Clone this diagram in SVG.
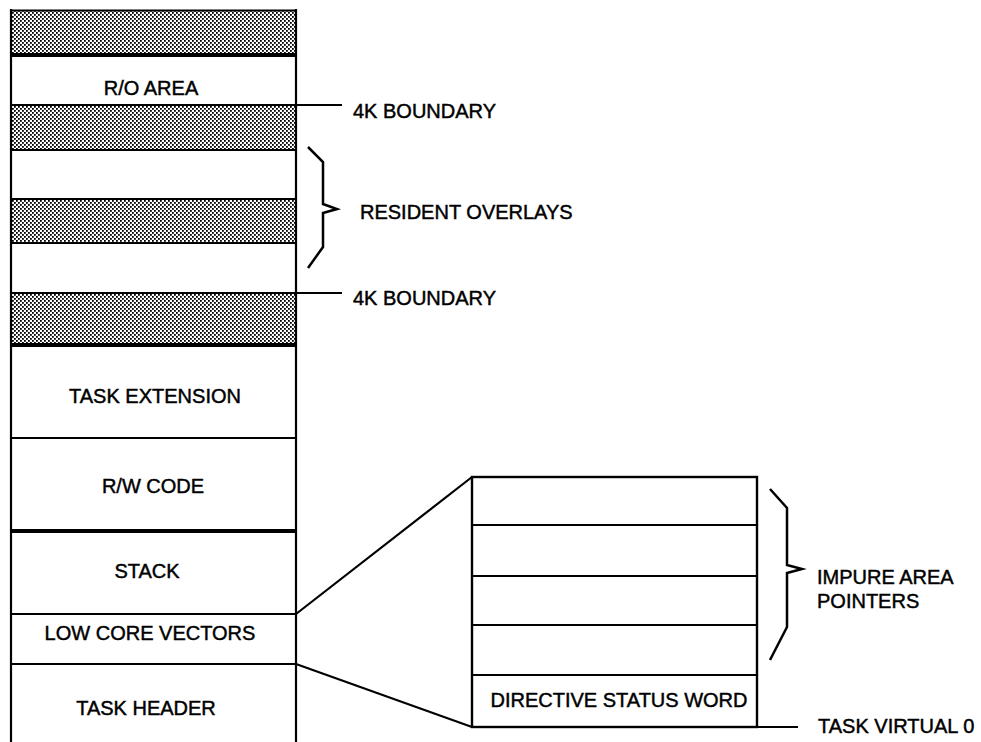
<svg xmlns="http://www.w3.org/2000/svg" width="981" height="742" viewBox="0 0 981 742">
  <defs>
    <!-- dithered halftone used for the unused (shaded) regions -->
    <pattern id="dither" width="4" height="4" patternUnits="userSpaceOnUse">
      <rect width="4" height="4" fill="#fff"/>
      <rect x="0" y="0" width="1.8" height="1.8" fill="#000"/>
      <rect x="2" y="2" width="1.8" height="1.8" fill="#000"/>
    </pattern>
  </defs>
  <style>
    text { font-family: "Liberation Sans", Arial, Helvetica, sans-serif; font-size: 20px; fill: #000; stroke: #000; stroke-width: 0.45; }
    .c { text-anchor: middle; }
    .band { fill: #fff; }
    .shade { fill: url(#dither); }
    .line { stroke: #000; stroke-width: 2.2; fill: none; }
    .thick { stroke: #000; stroke-width: 4; fill: none; }
    .brace { stroke: #000; stroke-width: 2.5; fill: none; stroke-linejoin: miter; }
  </style>

  <rect width="981" height="742" fill="#fff"/>

  <!-- task image column -->
  <g id="top-unused"><rect class="shade" x="11" y="10" width="285" height="45"/></g>
  <g id="ro-area"><rect class="band" x="11" y="55" width="285" height="50"/><text class="c" x="151" y="95">R/O AREA</text></g>
  <g id="gap-1"><rect class="shade" x="11" y="105" width="285" height="45"/></g>
  <g id="overlay-1"><rect class="band" x="11" y="150" width="285" height="48"/></g>
  <g id="gap-2"><rect class="shade" x="11" y="198" width="285" height="45"/></g>
  <g id="overlay-2"><rect class="band" x="11" y="243" width="285" height="50"/></g>
  <g id="gap-3"><rect class="shade" x="11" y="293" width="285" height="52"/></g>
  <g id="task-extension"><rect class="band" x="11" y="345" width="285" height="93"/><text class="c" x="155" y="403">TASK EXTENSION</text></g>
  <g id="rw-code"><rect class="band" x="11" y="438" width="285" height="93"/><text class="c" x="153" y="493">R/W CODE</text></g>
  <g id="stack"><rect class="band" x="11" y="531" width="285" height="83"/><text class="c" x="147" y="578">STACK</text></g>
  <g id="low-core-vectors"><rect class="band" x="11" y="614" width="285" height="50"/><text class="c" x="150" y="640">LOW CORE VECTORS</text></g>
  <g id="task-header"><rect class="band" x="11" y="664" width="285" height="78"/><text class="c" x="146" y="715">TASK HEADER</text></g>

  <!-- column outline and band dividers -->
  <g id="column-lines">
    <line class="line" x1="11" y1="9" x2="11" y2="742"/>
    <line class="line" x1="296" y1="9" x2="296" y2="742"/>
    <line class="line" x1="10" y1="10.5" x2="297" y2="10.5" stroke-width="3"/>
    <line class="thick" x1="11" y1="55" x2="296" y2="55"/>
    <line class="line" x1="11" y1="105" x2="296" y2="105"/>
    <line class="line" x1="11" y1="150" x2="296" y2="150"/>
    <line class="line" x1="11" y1="199" x2="296" y2="199"/>
    <line class="line" x1="11" y1="243" x2="296" y2="243"/>
    <line class="line" x1="11" y1="293" x2="296" y2="293"/>
    <line class="thick" x1="11" y1="345" x2="296" y2="345"/>
    <line class="line" x1="11" y1="438" x2="296" y2="438"/>
    <line class="thick" x1="11" y1="531" x2="296" y2="531"/>
    <line class="line" x1="11" y1="614" x2="296" y2="614"/>
    <line class="line" x1="11" y1="664" x2="296" y2="664"/>
  </g>

  <!-- expanded view of the header area -->
  <g id="impure-pointers-box">
    <rect x="472" y="477" width="285" height="250" fill="#fff" stroke="#000" stroke-width="2.4"/>
    <line class="line" x1="472" y1="525" x2="757" y2="525"/>
    <line class="line" x1="472" y1="576" x2="757" y2="576"/>
    <line class="line" x1="472" y1="625" x2="757" y2="625"/>
    <line class="line" x1="472" y1="675" x2="757" y2="675"/>
  </g>
  <g id="directive-status-word"><text class="c" x="619" y="707">DIRECTIVE STATUS WORD</text></g>

  <!-- connectors, braces and leader lines -->
  <g id="connectors">
    <line class="line" x1="296" y1="105" x2="342" y2="105"/>
    <line class="line" x1="296" y1="293" x2="342" y2="293"/>
    <line class="line" x1="296" y1="614" x2="472" y2="477" stroke-width="2.6"/>
    <line class="line" x1="296" y1="664" x2="472" y2="727" stroke-width="2.6"/>
    <line class="line" x1="757" y1="727" x2="798" y2="727"/>
    <path class="brace" d="M308,147 L323,162 L323,204 L337,209 L323,213 L323,247 L308,268"/>
    <path class="brace" d="M770,489 L787,508 L787,565 L802,569 L787,573 L787,627 L770,660"/>
  </g>

  <!-- labels -->
  <g id="label-4k-upper"><text x="353" y="118">4K BOUNDARY</text></g>
  <g id="label-resident-overlays"><text x="360" y="219">RESIDENT OVERLAYS</text></g>
  <g id="label-4k-lower"><text x="353" y="305">4K BOUNDARY</text></g>
  <g id="label-impure-area"><text x="817" y="584">IMPURE AREA</text><text x="817" y="608">POINTERS</text></g>
  <g id="label-task-virtual-0"><text x="818" y="733">TASK VIRTUAL 0</text></g>
</svg>
